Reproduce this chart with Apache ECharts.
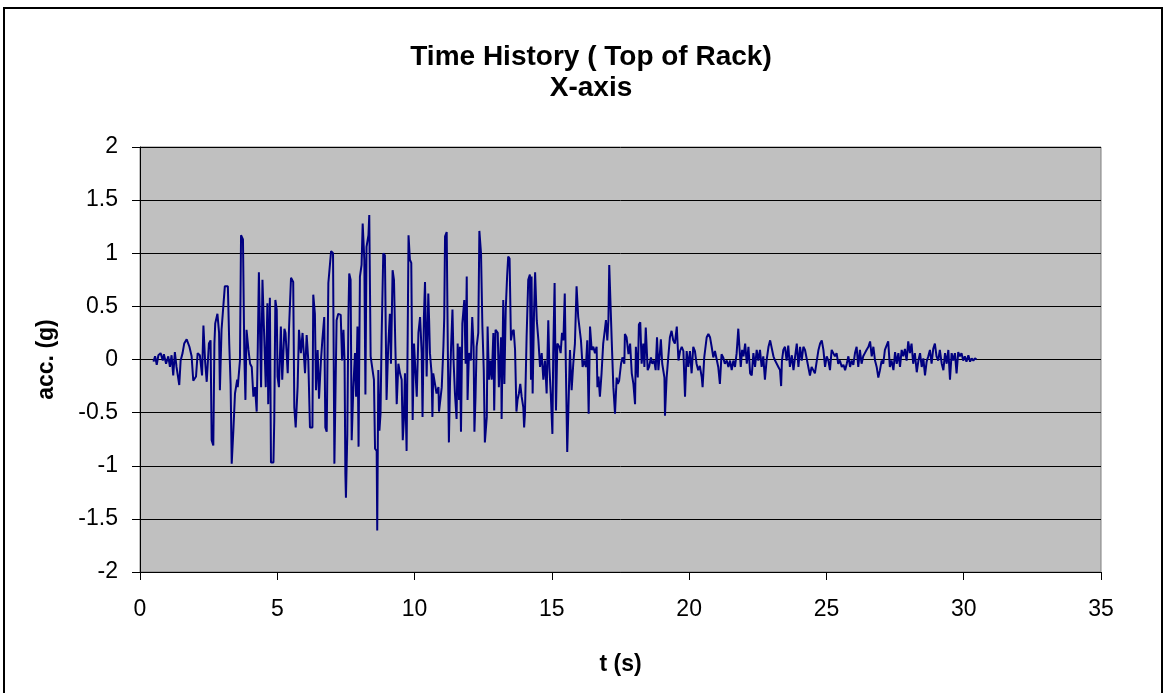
<!DOCTYPE html>
<html>
<head>
<meta charset="utf-8">
<title>Time History</title>
<script src="https://cdn.jsdelivr.net/npm/echarts@6/dist/echarts.min.js"></script>
<style>
  html, body { margin: 0; padding: 0; background: #fff; }
  #main { width: 1167px; height: 693px; }
</style>
</head>
<body>
<div id="main"></div>
<script>
// time (s) and acceleration (g) in pieces
var tA = [0.49,0.55,0.61,0.67,0.75,0.83,0.87,0.95,1.03,1.09,
  1.15,1.21,1.27,1.33,1.43,1.48,1.55,1.61,1.70,1.80,
  1.88,1.94,2.04,2.10,2.18,2.26,2.31,2.37,2.43,2.51,
  2.57,2.61,2.67,2.71,2.74,2.82,2.88,2.91,2.97,3.09,
  3.20,3.25,3.30,3.34,3.40,3.46,3.54,3.56,3.64,3.68,
  3.75,3.80,3.84,3.88,3.95,4.01,4.07,4.13,4.19,4.25,
  4.29,4.33,4.41,4.46,4.53,4.58,4.64,4.67,4.73,4.77,
  4.86,4.89,4.93,4.98];
var accA = [-0.02,0.03,-0.05,0.04,0.06,-0.01,0.05,-0.04,0.03,-0.07,
  0.04,-0.15,0.07,-0.07,-0.24,-0.01,0.06,0.15,0.19,0.12,
  0.03,-0.20,-0.16,0.06,0.04,-0.15,0.32,-0.01,-0.21,0.15,
  0.18,-0.76,-0.81,0.15,0.34,0.43,0.25,-0.29,0.28,0.69,
  0.69,0.15,-0.23,-0.98,-0.67,-0.32,-0.19,-0.26,-0.01,1.17,
  1.13,0.03,-0.38,0.28,0.09,-0.04,-0.07,-0.35,-0.26,-0.49,
  0.12,0.82,-0.26,0.75,0.76,-0.26,0.53,-0.42,0.58,-0.97,
  -0.97,-0.57,0.56,0.47];

var tB = [5.01,5.06,5.13,5.18,5.26,5.30,5.38,5.43,5.50,5.58,
  5.62,5.67,5.74,5.79,5.86,5.92,6.01,6.07,6.13,6.19,
  6.28,6.31,6.37,6.41,6.47,6.52,6.59,6.64,6.71,6.75,
  6.80,6.86,6.96,7.03,7.08,7.16,7.22,7.31,7.36,7.41,
  7.45,7.48,7.50,7.55,7.59,7.62,7.67,7.71,7.77,7.83,
  7.87,7.92,7.96,8.01,8.07,8.11,8.17,8.21,8.25,8.32,
  8.35,8.40,8.47,8.52,8.56,8.62,8.64,8.68,8.72,8.76,
  8.80,8.86,8.92,8.98,9.04,9.10,9.14,9.20,9.25,9.30,
  9.35,9.41,9.47,9.53,9.57,9.61,9.65,9.71,9.75,9.78,
  9.83,9.88,9.93,9.98];
var accB = [-0.16,-0.26,0.31,-0.19,0.29,0.25,-0.13,0.31,0.77,0.73,
  -0.45,-0.64,-0.26,0.28,0.06,0.25,-0.13,0.23,-0.01,-0.64,
  -0.64,0.61,0.43,-0.29,0.09,-0.37,-0.01,0.18,0.40,-0.64,
  -0.68,0.72,1.02,1.00,-0.98,0.37,0.43,0.42,-0.01,0.28,
  -0.01,-1.08,-1.30,-0.70,0.40,0.81,0.75,-0.76,-0.26,0.06,
  -0.35,0.31,-0.82,0.78,0.89,1.28,0.94,-0.33,1.06,1.17,
  1.36,0.03,-0.10,-0.19,-0.84,-0.86,-1.61,-0.10,-0.67,-0.51,
  0.21,1.00,0.98,-0.38,0.12,0.43,-0.04,0.84,0.75,0.12,
  -0.42,-0.04,-0.13,-0.19,-0.76,-0.57,-0.13,-0.86,0.25,1.17,
  0.94,0.91,-0.57,0.15];

var tC = [10.03,10.08,10.14,10.20,10.26,10.29,10.34,10.38,10.44,10.50,
  10.53,10.56,10.62,10.65,10.68,10.74,10.80,10.87,10.89,10.96,
  10.99,11.05,11.08,11.11,11.17,11.21,11.25,11.29,11.33,11.38,
  11.42,11.47,11.53,11.57,11.62,11.65,11.69,11.74,11.81,11.86,
  11.90,11.93,11.98,12.05,12.10,12.15,12.18,12.22,12.26,12.32,
  12.36,12.42,12.47,12.52,12.56,12.63,12.66,12.71,12.76,12.81,
  12.87,12.90,12.95,13.03,13.07,13.15,13.17,13.23,13.27,13.32,
  13.37,13.41,13.46,13.51,13.56,13.61,13.66,13.71,13.75,13.80,
  13.85,13.90,13.96,13.99,14.02,14.08,14.14,14.20,14.24,14.26,
  14.30,14.35,14.39,14.45,14.51,14.57,14.63,14.69,14.75,14.81,
  14.87,14.91,14.96];
var accC = [0.15,-0.35,0.25,0.40,0.06,-0.54,0.40,0.73,-0.16,0.62,
  0.37,0.06,-0.13,-0.54,-0.13,-0.12,-0.32,-0.26,-0.49,-0.49,
  -0.26,0.12,0.39,1.16,1.20,0.12,-0.78,-0.23,0.12,0.47,
  -0.01,-0.32,-0.56,0.15,-0.38,0.12,-0.68,0.34,0.56,-0.04,
  0.78,-0.38,0.06,-0.01,0.40,0.12,-0.68,-0.35,0.12,0.25,
  1.21,1.00,0.31,-0.10,-0.78,-0.54,0.31,-0.19,-0.01,-0.19,
  0.25,-0.48,0.28,0.25,-0.26,0.21,-0.56,0.56,-0.23,0.47,
  0.78,0.97,0.95,0.18,0.26,0.28,0.09,-0.49,-0.38,-0.32,
  -0.23,-0.35,-0.45,-0.64,-0.51,0.21,0.75,0.80,-0.19,0.78,
  -0.32,0.43,0.82,0.37,0.18,-0.07,0.06,-0.19,-0.01,-0.32,
  0.37,-0.07,-0.32];

var tD = [15.02,15.05,15.10,15.15,15.20,15.27,15.32,15.37,15.42,15.47,
  15.51,15.56,15.61,15.66,15.72,15.78,15.84,15.90,15.96,16.02,
  16.06,16.12,16.17,16.24,16.29,16.34,16.39,16.45,16.51,16.57,
  16.63,16.66,16.70,16.75,16.81,16.87,16.93,16.97,17.02,17.06,
  17.09,17.14,17.18,17.24,17.30,17.36,17.40,17.45,17.52,17.57,
  17.64,17.66,17.72,17.79,17.85,17.91,17.97,18.03,18.06,18.13,
  18.17,18.22,18.27,18.33,18.37,18.42,18.47,18.49,18.54,18.61,
  18.66,18.73,18.78,18.83,18.88,18.94,18.97,19.02,19.10,19.12,
  19.18,19.24,19.30,19.36,19.42,19.48,19.55,19.61,19.67,19.73,
  19.79,19.85,19.91,19.97];
var accD = [-0.70,0.06,0.72,-0.48,0.15,0.12,0.06,0.25,0.18,0.62,
  -0.07,-0.87,-0.87,0.09,-0.29,-0.04,0.15,0.69,0.40,0.40,
  0.18,-0.07,-0.01,-0.07,0.18,-0.51,0.31,0.09,0.12,0.06,
  0.12,-0.26,-0.16,-0.35,-0.13,0.15,0.28,0.37,0.18,0.37,
  0.89,0.89,0.18,-0.26,-0.51,-0.17,-0.23,-0.20,-0.04,0.02,
  -0.04,0.24,0.21,0.05,0.15,-0.13,-0.23,-0.42,0.12,-0.17,
  0.33,0.35,-0.04,0.15,-0.07,0.30,0.30,-0.10,-0.07,0.02,
  -0.04,-0.01,-0.10,0.21,-0.10,0.08,0.19,-0.04,-0.17,-0.53,
  -0.17,0.02,0.21,0.27,0.18,0.15,0.31,-0.01,0.08,0.12,
  0.08,-0.35,0.08,-0.07];

var tE = [20.03,20.09,20.15,20.21,20.27,20.33,20.39,20.46,20.49,20.55,
  20.64,20.70,20.76,20.82,20.88,20.94,21.00,21.06,21.12,21.18,
  21.24,21.30,21.37,21.43,21.49,21.55,21.61,21.67,21.73,21.79,
  21.83,21.88,21.93,21.98,22.04,22.10,22.16,22.22,22.28,22.34,
  22.40,22.46,22.52,22.58,22.64,22.70,22.76,22.82,22.89,22.95,
  23.01,23.07,23.13,23.19,23.25,23.31,23.35,23.38,23.43,23.49,
  23.55,23.61,23.67,23.74,23.80,23.86,23.92,23.98,24.04,24.10,
  24.16,24.22,24.28,24.34,24.40,24.46,24.52,24.58,24.65,24.71,
  24.77,24.83,24.89,24.95];
var accE = [0.08,-0.13,0.12,0.08,-0.04,-0.10,-0.06,-0.17,-0.26,0.02,
  0.21,0.24,0.21,0.12,0.02,0.08,0.08,-0.07,-0.23,0.05,
  0.02,-0.04,-0.01,-0.07,-0.01,-0.10,-0.01,-0.07,0.06,0.29,
  0.12,-0.07,0.09,0.03,0.15,-0.04,0.12,-0.13,-0.15,0.06,
  -0.07,0.09,-0.01,0.09,-0.07,0.03,-0.19,-0.01,0.12,0.18,
  0.19,0.03,-0.01,-0.04,-0.07,-0.10,-0.25,-0.01,0.09,0.12,
  -0.01,0.13,-0.07,0.04,-0.10,0.03,0.15,-0.07,0.12,-0.01,
  0.12,0.09,0.09,-0.07,-0.15,-0.07,-0.10,-0.13,-0.01,0.09,
  0.15,0.18,0.09,-0.07];

var tF = [25.01,25.07,25.13,25.19,25.25,25.31,25.37,25.43,25.49,25.56,
  25.62,25.68,25.74,25.80,25.86,25.92,25.98,26.04,26.10,26.16,
  26.22,26.28,26.34,26.40,26.46,26.53,26.59,26.65,26.71,26.77,
  26.83,26.89,26.95,27.01,27.07,27.13,27.19,27.25,27.31,27.37,
  27.44,27.50,27.56,27.62,27.68,27.74,27.80,27.86,27.92,27.98,
  28.04,28.10,28.16,28.22,28.29,28.35,28.41,28.47,28.53,28.59,
  28.65,28.71,28.77,28.83,28.89,28.95,29.01,29.07,29.13,29.20,
  29.26,29.32,29.38,29.44,29.50,29.56,29.62,29.68,29.74,29.80,
  29.86,29.92,29.98,30.04,30.10,30.17,30.23,30.29,30.35,30.41,
  30.47];
var accF = [0.03,-0.01,-0.10,0.09,0.06,0.03,0.06,-0.04,-0.01,-0.07,
  -0.05,-0.10,-0.04,0.03,-0.07,-0.01,-0.05,0.06,0.12,-0.07,
  0.09,-0.04,0.03,0.06,0.09,0.12,0.17,0.03,0.12,-0.01,
  -0.07,-0.17,-0.10,-0.01,-0.04,0.09,0.10,0.17,-0.07,-0.01,
  -0.10,0.07,-0.04,0.06,-0.07,0.09,0.03,0.10,-0.01,0.17,
  0.06,0.15,-0.04,0.06,-0.12,-0.01,0.06,-0.07,0.01,-0.15,
  -0.02,0.03,0.09,-0.04,0.10,0.15,0.03,-0.01,0.09,-0.04,
  -0.10,0.06,-0.04,0.09,-0.19,0.06,-0.01,0.06,-0.13,0.07,
  0.03,0.06,-0.01,0.03,-0.02,0.04,-0.02,0.01,-0.01,0.01,
  0.00];

var time = tA.concat(tB, tC, tD, tE, tF);
var acc = accA.concat(accB, accC, accD, accE, accF);

var pts = [];
for (var i = 0; i < time.length; i++) {
  pts.push([time[i], acc[i]]);
}

var font = 'Arial, "Liberation Sans", sans-serif';
var chart = echarts.init(document.getElementById("main"));
var option = {
  backgroundColor: "#fff",
  animation: false,
  title: {
    text: "Time History ( Top of Rack)\nX-axis",
    left: 586,
    textAlign: "center",
    top: 37,
    textStyle: {
      fontFamily: font,
      fontSize: 28,
      fontWeight: "bold",
      color: "#000",
      lineHeight: 31
    }
  },
  graphic: [{
    type: "rect",
    shape: { x: 4, y: 8, width: 1158, height: 700 },
    style: { fill: null, stroke: "#000", lineWidth: 2 },
    silent: true
  }],
  grid: {
    left: 140,
    top: 147,
    width: 961,
    height: 425,
    show: true,
    backgroundColor: "#C0C0C0",
    borderColor: "#808080",
    borderWidth: 1
  },
  xAxis: {
    type: "value",
    min: 0,
    max: 35,
    interval: 5,
    name: "t (s)",
    nameLocation: "middle",
    nameGap: 81,
    nameTextStyle: { fontFamily: font, fontSize: 23, fontWeight: "bold", color: "#000" },
    axisLine: { onZero: false, lineStyle: { color: "#000", width: 1 } },
    axisTick: { length: 8, lineStyle: { color: "#000" } },
    axisLabel: { fontFamily: font, fontSize: 23, color: "#000", margin: 26 },
    splitLine: { show: false }
  },
  yAxis: {
    type: "value",
    min: -2,
    max: 2,
    interval: 0.5,
    name: "acc. (g)",
    nameLocation: "middle",
    nameGap: 82,
    nameTextStyle: { fontFamily: font, fontSize: 23, fontWeight: "bold", color: "#000" },
    axisLine: { show: true, onZero: false, lineStyle: { color: "#000", width: 1 } },
    axisTick: { show: true, length: 8, lineStyle: { color: "#000" } },
    axisLabel: { fontFamily: font, fontSize: 23, color: "#000", margin: 22 },
    splitLine: { show: true, lineStyle: { color: "#000", width: 1 } }
  },
  series: [{
    name: "acc",
    type: "line",
    data: pts,
    showSymbol: false,
    lineStyle: { color: "#000080", width: 2 },
    itemStyle: { color: "#000080" }
  }]
};
chart.setOption(option);
</script>
</body>
</html>
